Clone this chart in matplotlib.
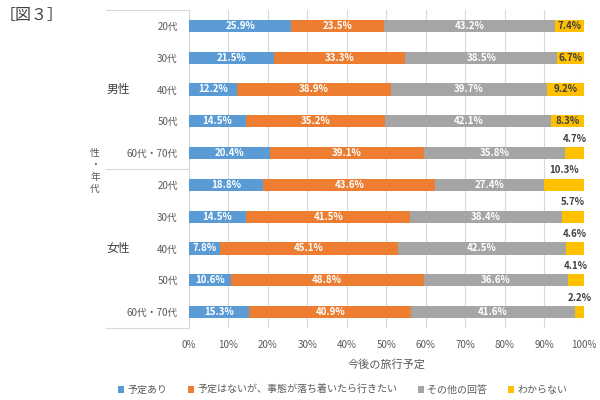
import numpy as np
import matplotlib.pyplot as plt
from matplotlib.lines import Line2D

plt.rcParams['font.family'] = ['Noto Sans CJK JP', 'DejaVu Sans']

# データ
年代 = ['20代', '30代', '40代', '50代', '60代・70代']
性別 = ['男性', '女性']
回答 = ['予定あり', '予定はないが、事態が落ち着いたら行きたい', 'その他の回答', 'わからない']

予定あり = [25.9, 21.5, 12.2, 14.5, 20.4, 18.8, 14.5, 7.8, 10.6, 15.3]
行きたい = [23.5, 33.3, 38.9, 35.2, 39.1, 43.6, 41.5, 45.1, 48.8, 40.9]
その他 = [43.2, 38.5, 39.7, 42.1, 35.8, 27.4, 38.4, 42.5, 36.6, 41.6]
わからない = [7.4, 6.7, 9.2, 8.3, 4.7, 10.3, 5.7, 4.6, 4.1, 2.2]

colores = ['#5B9BD5', '#ED7D31', '#A5A5A5', '#FFC000']
gris = '#595959'

fig = plt.figure(figsize=(6, 4), dpi=100)
ax = fig.add_axes([0.315, 0.18, 0.658, 0.795])

series = [予定あり, 行きたい, その他, わからない]
n = len(予定あり)
y = np.arange(n)
left = np.zeros(n)
for k, (vals, col) in enumerate(zip(series, colores)):
    vals = np.array(vals)
    ax.barh(y, vals, left=left, height=0.38, color=col, label=回答[k], zorder=3)
    for i in range(n):
        cx = left[i] + vals[i] / 2
        if k < 3:
            ax.text(cx, y[i], f'{vals[i]:.1f}%', ha='center', va='center',
                    color='white', fontsize=7, fontweight='bold', zorder=4)
        else:
            # 小さい値はバーの上に表示
            if vals[i] >= 6 and i != 5:
                ax.text(cx, y[i], f'{vals[i]:.1f}%', ha='center', va='center',
                        color='#404040', fontsize=7, fontweight='bold', zorder=4)
            else:
                ax.text(cx, y[i] - 0.3, f'{vals[i]:.1f}%', ha='center', va='bottom',
                        color='#404040', fontsize=7, fontweight='bold', zorder=4)
    left = left + vals

ax.set_xlim(0, 100)
ax.set_ylim(n - 0.5, -0.5)
ax.set_xticks(np.arange(0, 101, 10))
ax.set_xticklabels([f'{v}%' for v in range(0, 101, 10)], fontsize=7, color=gris)
ax.tick_params(axis='x', length=0, pad=9)
ax.set_yticks(y)
ax.set_yticklabels(年代 * 2, fontsize=7, color=gris)
ax.tick_params(axis='y', length=0, pad=8)
ax.grid(axis='x', color='#D9D9D9', linewidth=0.8, zorder=0)
for s in ['top', 'right', 'bottom']:
    ax.spines[s].set_visible(False)
ax.spines['left'].set_color('#D9D9D9')
ax.set_xlabel('今後の旅行予定', fontsize=8, color=gris, labelpad=6)

# グループの枠線
for yy in [-0.5, 4.5, 9.5]:
    ax.add_line(Line2D([-0.21, 0], [yy, yy], transform=ax.get_yaxis_transform(),
                       color='#D9D9D9', linewidth=0.8, clip_on=False))
ax.text(-0.18, 2, 性別[0], transform=ax.get_yaxis_transform(), ha='center', va='center',
        fontsize=8.5, color='#404040')
ax.text(-0.18, 7, 性別[1], transform=ax.get_yaxis_transform(), ha='center', va='center',
        fontsize=8.5, color='#404040')
ax.text(-0.238, 4.55, '性\n・\n年\n代', transform=ax.get_yaxis_transform(), ha='center', va='center',
        fontsize=7, color=gris, linespacing=1.25)

fig.text(0.0, 0.962, '［図３］', fontsize=11.5, color='#404040', va='center')

ax.legend(loc='center', bbox_to_anchor=(0.39, -0.195), ncol=4, frameon=False,
          fontsize=7.2, handlelength=0.6, handleheight=0.6, columnspacing=2.1,
          handletextpad=0.3, labelcolor=gris)

fig.savefig('out.png', dpi=100)
